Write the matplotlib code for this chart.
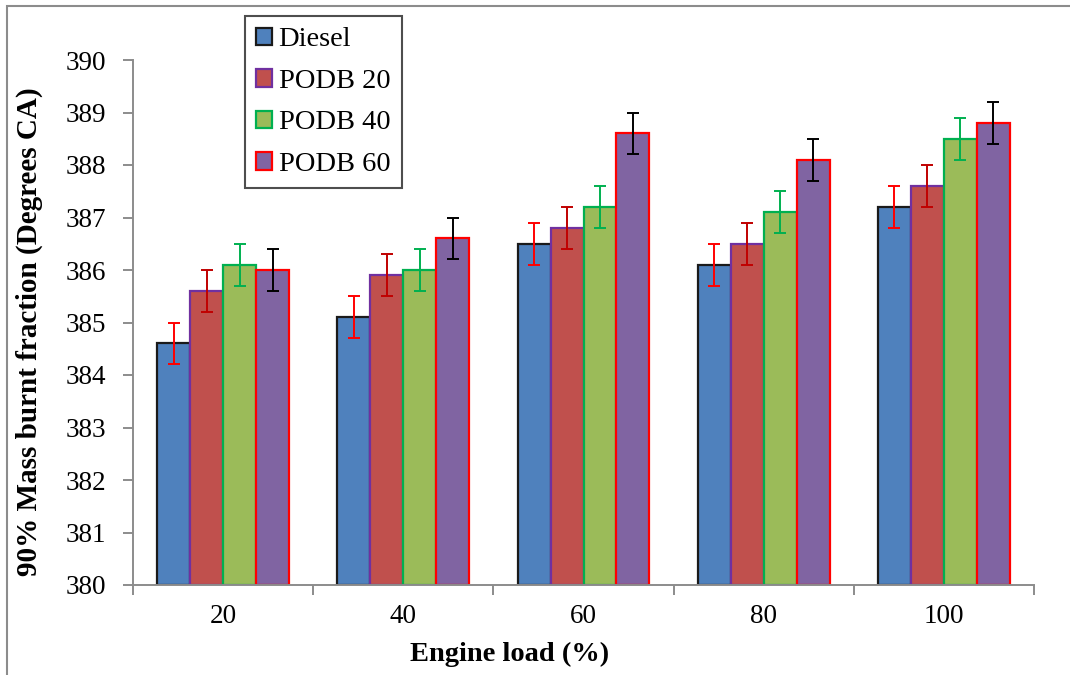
import matplotlib
matplotlib.use("Agg")
import matplotlib.pyplot as plt
import matplotlib.patches as mpatches
import numpy as np

# ── Data ────────────────────────────────────────────────────────────────────
loads = ["20", "40", "60", "80", "100"]
series_names = ["Diesel", "PODB 20", "PODB 40", "PODB 60"]

diesel = [384.6, 385.1, 386.5, 386.1, 387.2]
podb20 = [385.6, 385.9, 386.8, 386.5, 387.6]
podb40 = [386.1, 386.0, 387.2, 387.1, 388.5]
podb60 = [386.0, 386.6, 388.6, 388.1, 388.8]

err_diesel = [0.4, 0.4, 0.4, 0.4, 0.4]
err_podb20 = [0.4, 0.4, 0.4, 0.4, 0.4]
err_podb40 = [0.4, 0.4, 0.4, 0.4, 0.4]
err_podb60 = [0.4, 0.4, 0.4, 0.4, 0.4]

# ── Style ───────────────────────────────────────────────────────────────────
FILL = ["#4F81BD", "#C0504D", "#9BBB59", "#8064A2"]
EDGE = ["#1A1A1A", "#7030A0", "#00B050", "#FF0000"]
ERR = ["#FF0000", "#C00000", "#00B050", "#000000"]
AXIS_GREY = "#8C8C8C"

plt.rcParams["font.family"] = ["Liberation Serif", "DejaVu Serif"]

fig = plt.figure(figsize=(10.70, 6.75), dpi=100, facecolor="white")
ax = fig.add_axes([133 / 1070, 1 - 585 / 675, (1034 - 133) / 1070, (585 - 60) / 675])

values = [diesel, podb20, podb40, podb60]
errors = [err_diesel, err_podb20, err_podb40, err_podb60]
x = np.arange(len(loads))
bar_w = 0.183
offsets = (np.arange(len(values)) - 1.5) * bar_w

for i, (vals, errs) in enumerate(zip(values, errors)):
    heights = np.array(vals) - 380
    ax.bar(x + offsets[i], heights, bar_w, bottom=380,
           color=FILL[i], edgecolor=EDGE[i], linewidth=1.6, zorder=2)
    ax.errorbar(x + offsets[i], vals, yerr=errs, fmt="none",
                ecolor=ERR[i], elinewidth=1.4, capsize=4.3, capthick=1.4, zorder=3)

# ── Axes formatting ─────────────────────────────────────────────────────────
ax.set_xlim(-0.5, len(loads) - 0.5)
ax.set_ylim(380, 390)
ax.set_yticks(np.arange(380, 391, 1))
ax.set_xticks(x)
ax.set_xticklabels(loads)
ax.set_xticks(np.arange(-0.5, len(loads), 1), minor=True)
ax.tick_params(axis="x", which="major", length=0, pad=14, labelsize=19.5)
ax.tick_params(axis="x", which="minor", length=7, width=1.4, color=AXIS_GREY)
ax.tick_params(axis="y", length=7, width=1.4, color=AXIS_GREY, pad=12, labelsize=19.5)

for side in ["top", "right"]:
    ax.spines[side].set_visible(False)
for side in ["left", "bottom"]:
    ax.spines[side].set_color(AXIS_GREY)
    ax.spines[side].set_linewidth(1.4)

ax.set_xlabel("Engine load (%)", fontsize=20.5, fontweight="bold")
ax.set_ylabel("90% Mass burnt fraction (Degrees CA)", fontsize=21,
              fontweight="bold")
ax.xaxis.set_label_coords(0.418, -0.108)
ax.yaxis.set_label_coords(-0.1, 0.482)

# ── Legend ──────────────────────────────────────────────────────────────────
handles = [mpatches.Patch(facecolor=FILL[i], edgecolor=EDGE[i], linewidth=1.6)
           for i in range(len(series_names))]
leg = fig.legend(handles, series_names, loc="upper left",
                 bbox_to_anchor=(245 / 1070, 1 - 16 / 675),
                 fontsize=20.5, frameon=True, fancybox=False, shadow=False,
                 handlelength=0.56, handleheight=0.56, handletextpad=0.22,
                 labelspacing=0.58, borderpad=0.4, borderaxespad=0)
leg.get_frame().set_edgecolor("#222222")
leg.get_frame().set_linewidth(1.5)

# ── Outer chart frame ───────────────────────────────────────────────────────
frame = mpatches.Rectangle((7 / 1070, -0.05), 1.1, 1 - 6 / 675 + 0.05,
                           transform=fig.transFigure, fill=False,
                           edgecolor=AXIS_GREY, linewidth=1.5)
fig.patches.append(frame)

fig.savefig("out.png", dpi=100, facecolor="white")
